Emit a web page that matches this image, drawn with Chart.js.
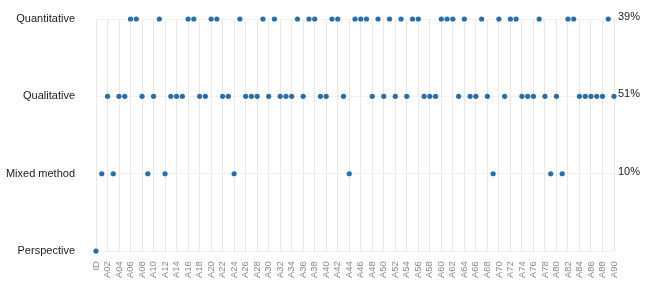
<!DOCTYPE html>
<html>
<head>
<meta charset="utf-8">
<script src="https://cdn.jsdelivr.net/npm/chart.js@4.4.1/dist/chart.umd.min.js"></script>
<style>
html,body{margin:0;padding:0;background:#fff;}
#wrap{width:648px;height:295px;position:relative;}
</style>
</head>
<body>
<div id="wrap"><canvas id="c" width="648" height="295"></canvas></div>
<script>
const categories = ['ID',
'A01','A02','A03','A04','A05','A06','A07','A08','A09','A10',
'A11','A12','A13','A14','A15','A16','A17','A18','A19','A20',
'A21','A22','A23','A24','A25','A26','A27','A28','A29','A30',
'A31','A32','A33','A34','A35','A36','A37','A38','A39','A40',
'A41','A42','A43','A44','A45','A46','A47','A48','A49','A50',
'A51','A52','A53','A54','A55','A56','A57','A58','A59','A60',
'A61','A62','A63','A64','A65','A66','A67','A68','A69','A70',
'A71','A72','A73','A74','A75','A76','A77','A78','A79','A80',
'A81','A82','A83','A84','A85','A86','A87','A88','A89','A90'];

const rowLabels = ['Perspective','Mixed method','Qualitative','Quantitative'];
const rowShares = ['', '10%', '51%', '39%'];

const quantitative = ['A06','A07','A11','A16','A17','A20','A21','A25','A29','A31',
'A35','A37','A38','A41','A42','A45','A46','A47','A49','A51','A53','A55','A56','A60','A61',
'A62','A64','A67','A70','A72','A73','A77','A82','A83','A89'];
const qualitative = ['A02','A04','A05','A08','A10','A13','A14','A15','A18','A19','A22','A23',
'A26','A27','A28','A30','A32','A33','A34','A36','A39','A40','A43','A48','A50','A52','A54',
'A57','A58','A59','A63','A65','A66','A68','A71','A74','A75','A76','A78','A80','A84','A85',
'A86','A87','A88','A90'];
const mixedMethod = ['A01','A03','A09','A12','A24','A44','A69','A79','A81'];
const perspective = ['ID'];

const rows = [perspective, mixedMethod, qualitative, quantitative];
const dotColor = '#2b6ea5';
const FONT = "'Liberation Sans', Arial, sans-serif";

const datasets = rows.map((items, r) => ({
  label: rowLabels[r],
  data: items.map(k => ({x: k, y: r})),
  showLine: false,
  pointRadius: 2.6,
  pointHoverRadius: 2.6,
  pointBackgroundColor: dotColor,
  pointBorderColor: dotColor,
  pointBorderWidth: 0,
  clip: false
}));

const sharePlugin = {
  id: 'shares',
  afterDatasetsDraw(chart) {
    const {ctx, chartArea, scales} = chart;
    ctx.save();
    ctx.font = "11px " + FONT;
    ctx.fillStyle = '#222';
    ctx.textAlign = 'left';
    ctx.textBaseline = 'middle';
    rowShares.forEach((s, r) => {
      if (!s) return;
      ctx.fillText(s, chartArea.right + 4, scales.y.getPixelForValue(r) - 2);
    });
    ctx.restore();
  }
};

new Chart(document.getElementById('c'), {
  type: 'line',
  data: { labels: categories, datasets },
  options: {
    responsive: false,
    animation: false,
    events: [],
    layout: { padding: { left: 4, right: 34, top: 19, bottom: 7 } },
    plugins: { legend: { display: false }, tooltip: { enabled: false } },
    scales: {
      x: {
        type: 'category',
        offset: false,
        border: { display: false },
        grid: {
          drawTicks: false,
          color: c => (c.index % 2 === 0 ? '#e8e8e8' : 'rgba(0,0,0,0)'),
          lineWidth: 1
        },
        ticks: {
          autoSkip: false,
          maxRotation: 90,
          minRotation: 90,
          padding: 10,
          color: '#8a8a8a',
          font: { family: FONT, size: 9.5 },
          callback: function(v, i) { return i % 2 === 0 ? categories[i] : ''; }
        }
      },
      y: {
        type: 'linear',
        min: 0,
        max: 3,
        border: { display: false },
        grid: { drawTicks: false, color: '#f0f0f0' },
        afterFit: s => { s.width = 92; s.paddingTop = 0; s.paddingBottom = 0; },
        ticks: {
          stepSize: 1,
          padding: 21,
          color: '#222',
          font: { family: FONT, size: 11 },
          callback: v => rowLabels[v]
        }
      }
    }
  },
  plugins: [sharePlugin]
});
</script>
</body>
</html>
